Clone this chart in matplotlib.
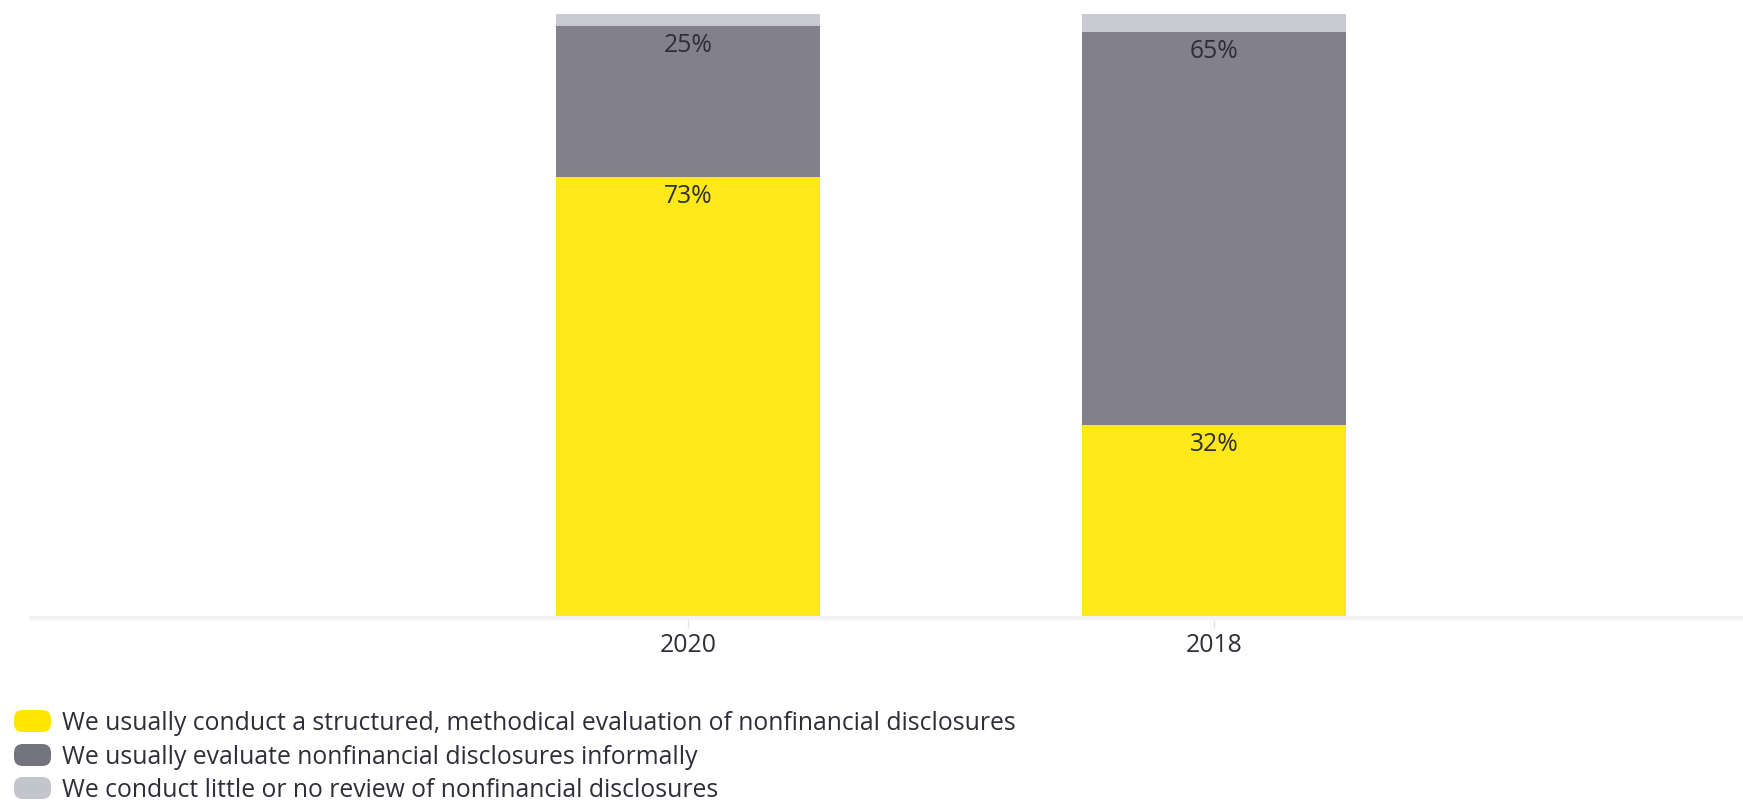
import numpy as np
import matplotlib
matplotlib.use("Agg")
import matplotlib.pyplot as plt
from matplotlib.patches import FancyBboxPatch

plt.rcParams['font.family'] = ['Open Sans', 'DejaVu Sans']

# survey answers per year, percent of respondents
years = ["2020", "2018"]
structured = [73, 32]
informal = [25, 65]
little = [2, 3]

series_names = [
    "We usually conduct a structured, methodical evaluation of nonfinancial disclosures",
    "We usually evaluate nonfinancial disclosures informally",
    "We conduct little or no review of nonfinancial disclosures",
]
bar_colors = ["#FFE819", "#82818B", "#C9C9D1"]
legend_colors = ["#FFE600", "#747480", "#C4C4CD"]
text_color = "#2E2E38"
fs = 17.8

W, H = 1743, 800
fig = plt.figure(figsize=(W / 100, H / 100), dpi=100)
ax = fig.add_axes([31 / W, 1 - 618 / H, (W - 31) / W, (618 - 13.7) / H])

x = np.arange(len(years))
bottom = np.zeros(len(years))
for vals, color, show in zip([structured, informal, little], bar_colors, [True, True, False]):
    vals = np.array(vals, dtype=float)
    ax.bar(x, vals, width=0.502, bottom=bottom, color=color, linewidth=0, zorder=2)
    if show:
        for xi, b, v in zip(x, bottom, vals):
            ax.annotate(f"{v:.0f}%", (xi, b + v), xytext=(0, -14),
                        textcoords="offset points", ha="center", va="center",
                        fontsize=fs, color=text_color, zorder=3)
    bottom += vals

ax.set_ylim(0, 100)
ax.set_xlim(-(688 - 31) / 526, 1 + (1743 - 1214) / 526)
ax.set_xticks(x)
ax.set_xticklabels(years, fontsize=fs, color=text_color)
ax.tick_params(axis="x", length=7, width=1, color="#E3E3E3", pad=4)
ax.set_yticks([])
for side in ["top", "right", "left"]:
    ax.spines[side].set_visible(False)
ax.spines["bottom"].set_color("#F2F2F2")
ax.spines["bottom"].set_linewidth(3)

# legend with rounded swatches, text baseline level with swatch bottom
row_y = [721, 755, 788]
for name, color, yc in zip(series_names, legend_colors, row_y):
    sw, sh = 37, 22
    patch = FancyBboxPatch((14 / W, (H - yc - sh / 2) / H), sw / W, sh / H,
                           boxstyle="round,pad=0,rounding_size=0.005",
                           transform=fig.transFigure, facecolor=color,
                           edgecolor="none", mutation_aspect=W / H)
    fig.add_artist(patch)
    fig.text(62 / W, (H - yc - 9) / H, name, fontsize=fs, color=text_color,
             va="baseline", ha="left")

fig.savefig("out.png", dpi=100)
